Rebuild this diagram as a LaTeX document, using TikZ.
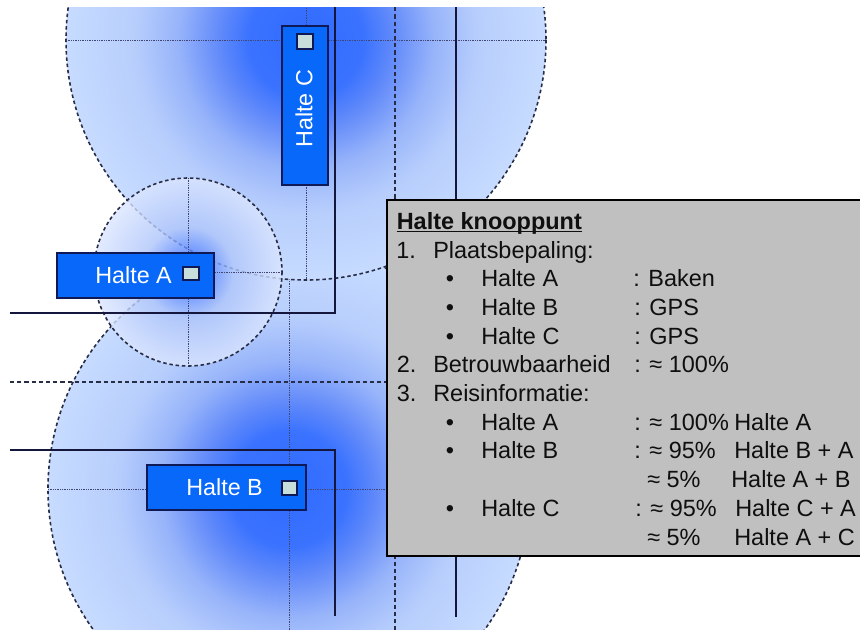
\documentclass[tikz,border=0pt]{standalone}
\usepackage{fontspec}
\setmainfont{Liberation Sans}

\definecolor{ringcol}{RGB}{40,45,70}
\definecolor{axiscol}{RGB}{65,70,115}
\definecolor{roadcol}{RGB}{20,22,60}
\definecolor{stopblue}{RGB}{8,104,250}
\definecolor{edgecol}{RGB}{15,25,85}
\definecolor{markfill}{RGB}{200,222,218}
\definecolor{panelgray}{RGB}{192,192,192}
\definecolor{textcol}{RGB}{15,15,15}

% coverage halo: dark core fading to a pale rim (25bp = circle radius)
\pgfdeclareradialshading{halobig}{\pgfpoint{0bp}{0bp}}{%
  rgb(0bp)=(0.19,0.42,1);
  rgb(6bp)=(0.23,0.45,1);
  rgb(9bp)=(0.38,0.54,0.98);
  rgb(13.5bp)=(0.60,0.71,0.98);
  rgb(18bp)=(0.72,0.81,0.99);
  rgb(25bp)=(0.78,0.86,1);
  rgb(50bp)=(0.78,0.86,1)}
\pgfdeclareradialshading{halosmall}{\pgfpoint{0bp}{0bp}}{%
  rgb(0bp)=(0.22,0.43,1);
  rgb(5bp)=(0.33,0.51,1);
  rgb(12bp)=(0.68,0.77,0.98);
  rgb(25bp)=(0.86,0.90,1);
  rgb(50bp)=(0.86,0.90,1)}

\begin{document}
\begin{tikzpicture}[x=0.75pt,y=-0.75pt,
  ring/.style={draw=ringcol, line width=1.2pt, dash pattern=on 2.6pt off 2.1pt},
  axis/.style={draw=axiscol, line width=0.6pt, dash pattern=on 0.7pt off 0.6pt},
  road/.style={draw=roadcol, line width=1.1pt},
  midline/.style={draw=ringcol, line width=1pt, dash pattern=on 3.2pt off 2.2pt},
  stopbox/.style={draw=edgecol, line width=0.9pt, fill=stopblue},
  marker/.style={draw=edgecol, line width=0.8pt, fill=markfill},
  lbl/.style={anchor=base west, inner sep=0pt, text=white, font=\fontsize{17.5}{21}\selectfont},
  txt/.style={anchor=base west, inner sep=0pt, text=textcol, font=\fontsize{17.6}{21}\selectfont}]

\useasboundingbox (0,0) rectangle (860,629);

\begin{scope}
  \clip (0,7) rectangle (860,629);

  % coverage area of stop B
  \path[shading=halobig] (289,489) circle (241);
  \draw[ring] (289,489) circle (241);
  \draw[axis] (48,489) -- (530,489);
  \draw[axis] (289,248) -- (289,730);

  % coverage area of stop C
  \path[shading=halobig] (306,40) circle (240);
  \draw[ring] (306,40) circle (240);
  \draw[axis] (66,40) -- (546,40);
  \draw[axis] (306,-200) -- (306,280);

  % beacon range of stop A
  \path[shading=halosmall, opacity=0.8] (188,272) circle (94);
  \draw[ring] (188,272) circle (94);
  \draw[axis] (94,272) -- (282,272);
  \draw[axis] (188,178) -- (188,366);

  % streets
  \draw[road] (335,0) -- (335,313) -- (10,313);
  \draw[road] (10,450) -- (335,450) -- (335,616);
  \draw[road] (456,0) -- (456,617);
  \draw[midline] (10,382) -- (395,382);
  \draw[midline] (395,0) -- (395,640);
\end{scope}

% stop labels
\draw[stopbox] (57,253) rectangle (214,298);
\node[lbl] (haltea) at (95,283.3) {Halte A};
\draw[marker] (183,267) rectangle (199,280);

\draw[stopbox] (147,465) rectangle (306,510);
\node[lbl] (halteb) at (186,495) {Halte B};
\draw[marker] (282,481) rectangle (297,495);

\draw[stopbox] (282,26) rectangle (328,185);
\node[lbl, rotate=90] (haltec) at (312.3,148) {Halte C};
\draw[marker] (297,34) rectangle (313,49);

% summary panel
\draw[fill=panelgray, draw=black, line width=1.1pt] (387,200) rectangle (880,556);

\node[txt, font=\fontsize{17.6}{21}\selectfont\bfseries] (title) at (396.5,229.3) {Halte knooppunt};
\draw[textcol, line width=1.1pt] ([yshift=-1.6pt]title.base west) -- ([yshift=-1.6pt]title.base east);

\node[txt] (n1) at (396,258) {1.};
\node[txt] (plaats) at (433,258) {Plaatsbepaling:};

\node[txt] (b1) at (445.5,286.7) {•};
\node[txt] (pa) at (481,286.7) {Halte A};
\node[txt] (pav) at (633,286.7) {: Baken};

\node[txt] (b2) at (445.5,315.4) {•};
\node[txt] (pb) at (481,315.4) {Halte B};
\node[txt] (pbv) at (634,315.4) {: GPS};

\node[txt] (b3) at (445.5,344.1) {•};
\node[txt] (pc) at (481,344.1) {Halte C};
\node[txt] (pcv) at (634,344.1) {: GPS};

\node[txt] (n2) at (396.5,372.8) {2.};
\node[txt] (betr) at (433,372.8) {Betrouwbaarheid};
\node[txt] (betrv) at (634,372.8) {: ≈ 100\%};

\node[txt] (n3) at (396.5,401.5) {3.};
\node[txt] (reis) at (433,401.5) {Reisinformatie:};

\node[txt] (b4) at (445.5,430.2) {•};
\node[txt] (ra) at (481,430.2) {Halte A};
\node[txt] (rav) at (634,430.2) {: ≈ 100\%};
\node[txt] (raw) at (734,430.2) {Halte A};

\node[txt] (b5) at (445.5,458.9) {•};
\node[txt] (rb) at (481,458.9) {Halte B};
\node[txt] (rbv) at (634,458.9) {: ≈ 95\%};
\node[txt] (rbw) at (734,458.9) {Halte B + A};
\node[txt] (rbv2) at (647,487.6) {≈ 5\%};
\node[txt] (rbw2) at (731,487.6) {Halte A + B};

\node[txt] (b6) at (445.5,516.3) {•};
\node[txt] (rc) at (481,516.3) {Halte C};
\node[txt] (rcv) at (635,516.3) {: ≈ 95\%};
\node[txt] (rcw) at (735,516.3) {Halte C + A};
\node[txt] (rcv2) at (647,545) {≈ 5\%};
\node[txt] (rcw2) at (734,545) {Halte A + C};

\end{tikzpicture}
\end{document}
